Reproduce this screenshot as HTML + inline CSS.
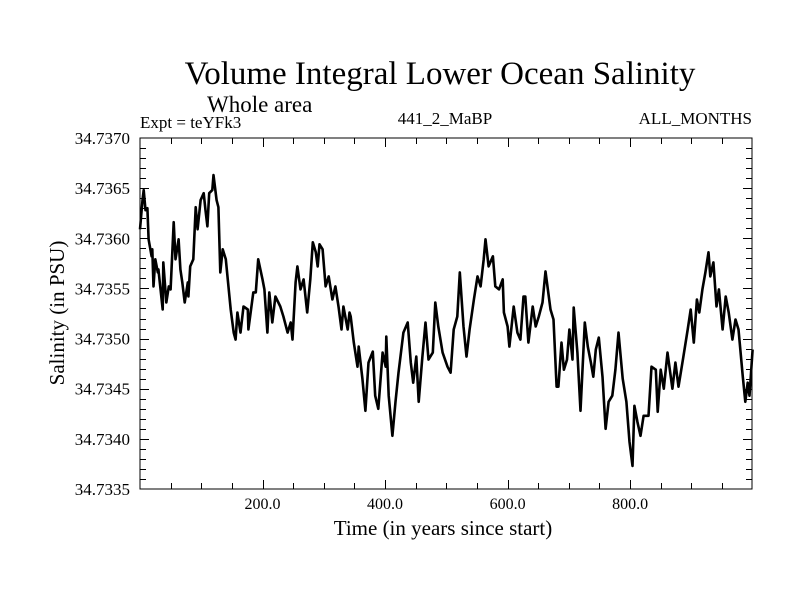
<!DOCTYPE html>
<html><head><meta charset="utf-8"><style>
body{margin:0;background:#fff}
svg text{font-family:"Liberation Serif",serif;fill:#000}
</style></head><body>
<svg id="chart" width="800" height="600" xmlns="http://www.w3.org/2000/svg">
<text x="440" y="84" font-size="33" text-anchor="middle">Volume Integral Lower Ocean Salinity</text>
<text x="207" y="112" font-size="23">Whole area</text>
<text x="140" y="128" font-size="17">Expt = teYFk3</text>
<text x="445" y="124" font-size="17" text-anchor="middle">441_2_MaBP</text>
<text x="752" y="124" font-size="17" text-anchor="end">ALL_MONTHS</text>
<text x="443" y="535" font-size="21" text-anchor="middle">Time (in years since start)</text>
<text x="0" y="0" font-size="21" text-anchor="middle" transform="translate(64,313) rotate(-90)">Salinity (in PSU)</text>
<g id="axes"></g>
<path id="series" fill="none" stroke="#000" stroke-width="2.6" stroke-linejoin="round"/>
<rect x="140" y="138" width="612" height="351" fill="none" stroke="#000" stroke-width="1"/>
</svg>
<script>
const years=[0,4,6,9,12,14,19,20,22,25,29,30,37,38,43,47,50,55,58,63,66,69,73,78,79,82,87,91,94,99,104,107,110,113,118,120,125,128,131,135,140,148,153,156,159,164,169,176,177,185,189,193,200,203,208,211,216,221,229,234,241,246,249,254,257,262,267,273,278,282,287,290,293,298,303,308,314,319,324,329,332,339,342,344,349,355,357,363,368,373,380,384,389,396,401,402,406,412,417,422,430,437,442,446,451,455,461,466,471,478,482,487,494,502,507,512,518,522,528,533,538,545,551,556,561,564,569,576,580,586,592,594,600,603,610,616,621,626,629,634,641,646,651,657,662,670,675,680,683,688,692,697,701,706,708,714,719,726,731,736,740,744,749,755,760,765,771,776,781,788,794,799,804,807,812,817,822,830,835,842,845,850,855,861,869,874,879,887,894,899,904,909,913,918,923,928,931,936,941,945,951,956,961,967,972,977,984,988,992,995,1000];
const salinity=[34.73609,34.73638,34.73648,34.73628,34.73630,34.73599,34.73582,34.73589,34.73552,34.73579,34.73566,34.73569,34.73529,34.73576,34.73536,34.73552,34.73549,34.73616,34.73579,34.73599,34.73569,34.73556,34.73536,34.73556,34.73542,34.73572,34.73579,34.73631,34.73609,34.73638,34.73645,34.73628,34.73612,34.73645,34.73648,34.73663,34.73638,34.73631,34.73566,34.73589,34.73579,34.73529,34.73506,34.73499,34.73526,34.73506,34.73532,34.73529,34.73509,34.73546,34.73546,34.73579,34.73559,34.73549,34.73506,34.73546,34.73516,34.73542,34.73532,34.73522,34.73506,34.73516,34.73499,34.73556,34.73572,34.73549,34.73559,34.73526,34.73559,34.73596,34.73586,34.73572,34.73594,34.73589,34.73552,34.73562,34.73539,34.73552,34.73532,34.73509,34.73532,34.73509,34.73526,34.73522,34.73496,34.73472,34.73492,34.73460,34.73428,34.73476,34.73487,34.73443,34.73430,34.73486,34.73472,34.73502,34.73443,34.73403,34.73437,34.73466,34.73506,34.73516,34.73476,34.73456,34.73482,34.73437,34.73482,34.73516,34.73479,34.73486,34.73536,34.73512,34.73486,34.73472,34.73466,34.73509,34.73522,34.73566,34.73512,34.73482,34.73509,34.73539,34.73562,34.73552,34.73579,34.73599,34.73572,34.73582,34.73552,34.73549,34.73559,34.73526,34.73512,34.73492,34.73532,34.73506,34.73499,34.73542,34.73542,34.73496,34.73532,34.73512,34.73522,34.73536,34.73567,34.73529,34.73519,34.73452,34.73452,34.73496,34.73469,34.73479,34.73509,34.73479,34.73531,34.73486,34.73428,34.73516,34.73492,34.73476,34.73462,34.73489,34.73501,34.73462,34.73410,34.73437,34.73443,34.73469,34.73506,34.73460,34.73437,34.73397,34.73373,34.73433,34.73417,34.73403,34.73423,34.73423,34.73472,34.73469,34.73427,34.73469,34.73450,34.73486,34.73450,34.73476,34.73452,34.73482,34.73509,34.73529,34.73496,34.73539,34.73526,34.73549,34.73566,34.73586,34.73562,34.73576,34.73532,34.73549,34.73509,34.73542,34.73526,34.73499,34.73519,34.73509,34.73462,34.73437,34.73456,34.73443,34.73489];
const xTickValues=[200,400,600,800];
const xTickLabels=["200.0","400.0","600.0","800.0"];
const yTickValues=[34.7335,34.7340,34.7345,34.7350,34.7355,34.7360,34.7365,34.7370];
const yTickLabels=["34.7335","34.7340","34.7345","34.7350","34.7355","34.7360","34.7365","34.7370"];

const X0=140,X1=752,Y0=138,Y1=489;
const xMin=0,xMax=999,yMin=34.7335,yMax=34.7370;
const sx=v=>X0+(v-xMin)/(xMax-xMin)*(X1-X0);
const sy=v=>Y1-(v-yMin)/(yMax-yMin)*(Y1-Y0);
const NS="http://www.w3.org/2000/svg";
const axes=document.getElementById('axes');
function line(x1,y1,x2,y2){const l=document.createElementNS(NS,'line');l.setAttribute('x1',x1);l.setAttribute('y1',y1);l.setAttribute('x2',x2);l.setAttribute('y2',y2);l.setAttribute('stroke','#000');l.setAttribute('stroke-width','1');axes.appendChild(l);return l;}
for(let v=50;v<xMax;v+=50){
  const major=v%200===0;const len=major?9:6;const x=Math.round(sx(v))+0.5;
  const t1=line(x,Y1,x,Y1-len);
  
  
  const t2=line(x,Y0,x,Y0+len);
  
  
}
xTickValues.forEach((v,i)=>{const t=document.createElementNS(NS,'text');t.setAttribute('x',sx(v));t.setAttribute('y',Y1+20);t.setAttribute('font-size','16');t.setAttribute('text-anchor','middle');t.textContent=xTickLabels[i];


axes.appendChild(t);});
for(let k=1;k<35;k++){
  const v=yMin+k*0.0001;const major=k%5===0;const len=major?9:6;const y=Math.round(sy(v))+0.5;
  const t1=line(X0,y,X0+len,y);
  
  
  const t2=line(X1,y,X1-len,y);
  
  
}
yTickValues.forEach((v,i)=>{const t=document.createElementNS(NS,'text');t.setAttribute('x',X0-10);t.setAttribute('y',sy(v)+6);t.setAttribute('font-size','17');t.setAttribute('text-anchor','end');t.textContent=yTickLabels[i];


axes.appendChild(t);});
let d='';years.forEach((yr,i)=>{d+=(i?'L':'M')+sx(yr).toFixed(1)+','+sy(salinity[i]).toFixed(1);});
document.getElementById('series').setAttribute('d',d);
</script>
</body></html>
